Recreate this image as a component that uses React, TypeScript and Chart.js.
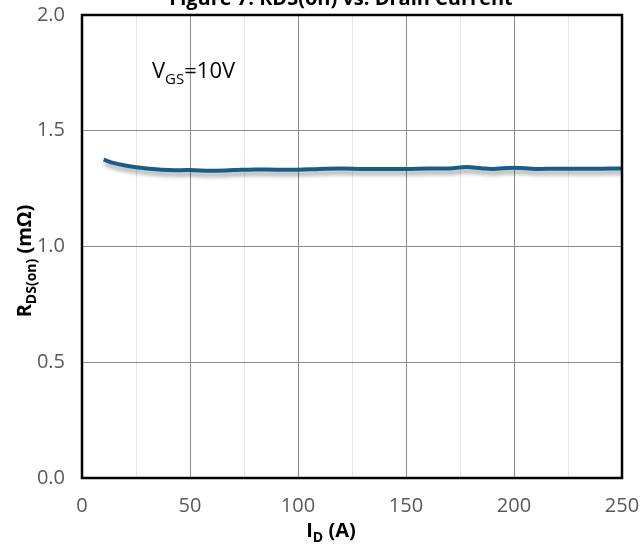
import React, { useEffect, useRef } from "react";
import { Chart, registerables } from "chart.js";

Chart.register(...registerables);

// Data
const currentA: number[] = [10, 15, 20, 25, 30, 40, 50, 60, 70, 80, 90, 100, 110, 120, 130, 140, 150, 160, 170, 178, 185, 190, 200, 210, 220, 230, 240, 250];
const rdsOn: number[] = [1.375, 1.36, 1.35, 1.342, 1.337, 1.33, 1.33, 1.327, 1.33, 1.333, 1.332, 1.332, 1.335, 1.337, 1.335, 1.335, 1.335, 1.337, 1.337, 1.343, 1.338, 1.335, 1.34, 1.335, 1.336, 1.336, 1.336, 1.337];

const xMin = 0;
const xMax = 250;
const xMajor = 50;
const xMinor = 25;
const yMin = 0;
const yMax = 2.0;
const yStep = 0.5;

const titleParts = [{ t: "Figure 7. RDS(on) vs. Drain Current" }];
const xTitleParts = [{ t: "I" }, { t: "D", sub: true }, { t: " (A)" }];
const yTitleParts = [{ t: "R" }, { t: "DS(on)", sub: true }, { t: " (mΩ)" }];
const annotationParts = [{ t: "V" }, { t: "GS", sub: true }, { t: "=10V" }];

const FONT = "'Open Sans', 'DejaVu Sans', sans-serif";

type Part = { t: string; sub?: boolean };

function drawRich(
  ctx: CanvasRenderingContext2D,
  parts: Part[],
  x: number,
  y: number,
  size: number,
  subSize: number,
  weight: string,
  align: "left" | "center",
  color: string
) {
  ctx.save();
  ctx.fillStyle = color;
  ctx.textBaseline = "alphabetic";
  ctx.textAlign = "left";
  let total = 0;
  for (const p of parts) {
    ctx.font = `${weight} ${p.sub ? subSize : size}px ${FONT}`;
    total += ctx.measureText(p.t).width;
  }
  let cx = align === "center" ? x - total / 2 : x;
  for (const p of parts) {
    ctx.font = `${weight} ${p.sub ? subSize : size}px ${FONT}`;
    ctx.fillText(p.t, cx, p.sub ? y + size * 0.25 : y);
    cx += ctx.measureText(p.t).width;
  }
  ctx.restore();
}

const decorPlugin = {
  id: "decor",
  beforeDatasetDraw(chart: any) {
    const ctx = chart.ctx;
    ctx.save();
    ctx.shadowColor = "rgba(0,0,0,0.35)";
    ctx.shadowBlur = 4;
    ctx.shadowOffsetX = 1;
    ctx.shadowOffsetY = 4;
  },
  afterDatasetDraw(chart: any) {
    chart.ctx.restore();
  },
  afterDraw(chart: any) {
    const ctx = chart.ctx as CanvasRenderingContext2D;
    const a = chart.chartArea;
    ctx.save();
    ctx.strokeStyle = "#000";
    ctx.lineWidth = 2.5;
    ctx.strokeRect(a.left, a.top, a.right - a.left, a.bottom - a.top);
    ctx.restore();
    // title (clipped at top in reference)
    drawRich(ctx, titleParts, 341, 5, 20, 14, "bold", "center", "#000");
    // x axis title
    drawRich(ctx, xTitleParts, 331, 537, 20, 14, "bold", "center", "#000");
    // y axis title
    ctx.save();
    ctx.translate(31, 261);
    ctx.rotate(-Math.PI / 2);
    drawRich(ctx, yTitleParts, 0, 0, 20, 14, "bold", "center", "#000");
    ctx.restore();
    // annotation
    drawRich(ctx, annotationParts, 152, 78, 22, 15, "normal", "left", "#000");
  },
};

function noOverhang(s: any) {
  s.paddingTop = 0;
  s.paddingBottom = 0;
  s.paddingLeft = 0;
  s.paddingRight = 0;
}

export default function App() {
  const ref = useRef<HTMLCanvasElement>(null);
  useEffect(() => {
    document.body.style.margin = "0";
    const chart = new Chart(ref.current as HTMLCanvasElement, {
      type: "line",
      data: {
        datasets: [
          {
            data: currentA.map((x, i) => ({ x, y: rdsOn[i] })),
            borderColor: "#1a5c88",
            borderWidth: 4,
            pointRadius: 0,
            tension: 0.4,
            fill: false,
          },
        ],
      },
      options: {
        responsive: false,
        animation: false,
        layout: { padding: { left: 0, right: 19, top: 15, bottom: 0 } },
        plugins: { legend: { display: false }, tooltip: { enabled: false }, title: { display: false } },
        scales: {
          x: {
            type: "linear",
            min: xMin,
            max: xMax,
            afterFit: (s: any) => {
              s.height = 70;
              noOverhang(s);
            },
            border: { display: false },
            grid: {
              drawTicks: false,
              color: (c: any) => (c.tick && c.tick.value % xMajor === 0 ? "#8a8a8a" : "#e6e6e6"),
              lineWidth: 1,
            },
            ticks: {
              stepSize: xMinor,
              padding: 16,
              color: "#595959",
              font: { family: FONT, size: 20 },
              maxRotation: 0,
              autoSkip: false,
              callback: (v: any) => (Number(v) % xMajor === 0 ? String(v) : ""),
            },
          },
          y: {
            type: "linear",
            min: yMin,
            max: yMax,
            afterFit: (s: any) => {
              s.width = 82;
              noOverhang(s);
            },
            border: { display: false },
            grid: { drawTicks: false, color: "#8a8a8a", lineWidth: 1 },
            ticks: {
              stepSize: yStep,
              padding: 17,
              color: "#595959",
              font: { family: FONT, size: 20 },
              callback: (v: any) => Number(v).toFixed(1),
            },
          },
        },
      },
      plugins: [decorPlugin],
    } as any);
    return () => chart.destroy();
  }, []);
  return (
    <div style={{ position: "absolute", left: 0, top: 0, width: 641, height: 548, background: "#fff" }}>
      <canvas ref={ref} width={641} height={548} style={{ display: "block" }} />
    </div>
  );
}
